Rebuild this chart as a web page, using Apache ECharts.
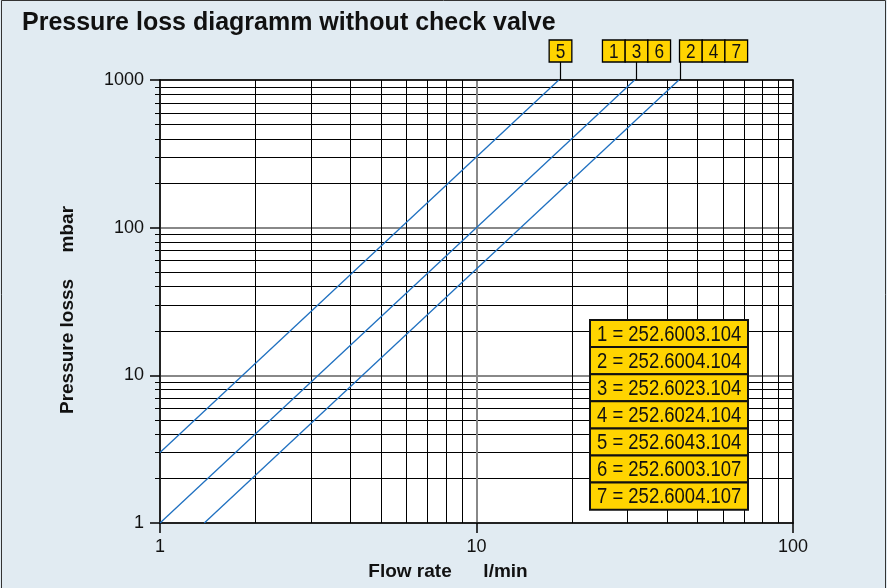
<!DOCTYPE html>
<html><head><meta charset="utf-8">
<script src="https://cdn.jsdelivr.net/npm/echarts@6/dist/echarts.min.js"></script>
<style>html,body{margin:0;padding:0;background:#e1ebf2;} #c{width:887px;height:588px;}</style>
</head><body><div id="c"></div>
<script>
// ---- data ----
const titleText = 'Pressure loss diagramm without check valve';
const xName = 'Flow rate      l/min';
const yName = 'Pressure losss     mbar';
const series5 = [[1, 3], [18.2, 1000]];
const series136 = [[1, 1], [31.6, 1000]];
const series247 = [[1.38, 1], [43.6, 1000]];
const tagCells = [['5'], ['1', '3', '6'], ['2', '4', '7']];
const legendItems = [
  '1 = 252.6003.104',
  '2 = 252.6004.104',
  '3 = 252.6023.104',
  '4 = 252.6024.104',
  '5 = 252.6043.104',
  '6 = 252.6003.107',
  '7 = 252.6004.107'
];
const xRange = [1, 100];
const yRange = [1, 1000];

const BG = '#e1ebf2', YEL = '#ffd400', BLUE = '#1f70c0';
const FONT = 'Liberation Sans, Arial, sans-serif';

const chart = echarts.init(document.getElementById('c'), null, {renderer: 'canvas'});

const frameAxis = (pos) => ({
  type: 'log', logBase: 10, position: pos,
  min: pos === 'top' || pos === 'bottom' ? xRange[0] : yRange[0],
  max: pos === 'top' || pos === 'bottom' ? xRange[1] : yRange[1],
  axisLine: {show: true, onZero: false, lineStyle: {color: '#000', width: 1.5}},
  axisTick: {show: false}, axisLabel: {show: false}, splitLine: {show: false}
});
const plain = v => String(Math.round(v));

chart.setOption({
  backgroundColor: BG,
  animation: false,
  grid: {left: 160, right: 94, top: 80, bottom: 65, show: true, backgroundColor: '#fff', borderWidth: 0},
  xAxis: [{
    type: 'log', logBase: 10, min: xRange[0], max: xRange[1],
    axisLine: {show: true, onZero: false, lineStyle: {color: '#000', width: 1.5}},
    axisTick: {show: true, length: 10, lineStyle: {color: '#000', width: 1.5}},
    minorTick: {show: false, splitNumber: 9},
    splitLine: {show: true, lineStyle: {color: '#888', width: 2}},
    minorSplitLine: {show: true, lineStyle: {color: '#000', width: 1}},
    axisLabel: {fontSize: 18, color: '#111', margin: 15, fontFamily: FONT, formatter: plain}
  }, frameAxis('top')],
  yAxis: [{
    type: 'log', logBase: 10, min: yRange[0], max: yRange[1],
    axisLine: {show: true, onZero: false, lineStyle: {color: '#000', width: 1.5}},
    axisTick: {show: true, length: 10, lineStyle: {color: '#000', width: 1.5}},
    minorTick: {show: true, splitNumber: 9, length: 5, lineStyle: {color: '#000', width: 1}},
    splitLine: {show: true, lineStyle: {color: '#888', width: 2}},
    minorSplitLine: {show: true, lineStyle: {color: '#000', width: 1}},
    axisLabel: {fontSize: 18, color: '#111', margin: 16, fontFamily: FONT, formatter: plain}
  }, frameAxis('right')],
  series: [series5, series136, series247].map((d, i) => ({
    name: 'line' + i, type: 'line', data: d, showSymbol: false, z: 5,
    xAxisIndex: 0, yAxisIndex: 0,
    lineStyle: {color: BLUE, width: 1.3}
  }))
});

// ---- annotations ----
const g = [];
g.push({type: 'text', x: 22, y: 23, style: {text: titleText, font: 'bold 25px ' + FONT, fill: '#111', verticalAlign: 'middle'}});
g.push({type: 'text', x: 448, y: 572, style: {text: xName, font: 'bold 19px ' + FONT, fill: '#111', align: 'center', verticalAlign: 'middle'}});
g.push({type: 'text', x: 68, y: 310, rotation: Math.PI / 2, style: {text: yName, font: 'bold 19px ' + FONT, fill: '#111', align: 'center', verticalAlign: 'middle'}});

// tag boxes with leader lines, anchored on series end points
const ends = [series5, series136, series247].map(s => chart.convertToPixel({xAxisIndex: 0, yAxisIndex: 0}, s[s.length - 1]));
const cellW = 22.7, cellH = 22, gap = 18;
tagCells.forEach((cells, i) => {
  const px = Math.round(ends[i][0]) + 1.5;
  const top = ends[i][1];
  const w = cells.length * cellW;
  const x0 = i === 2 ? px - 1 : px - w / 2;
  const by = top - gap - cellH;
  g.push({type: 'line', shape: {x1: px, y1: top - gap, x2: px, y2: top}, style: {stroke: '#000', lineWidth: 1.2}, z: 10});
  cells.forEach((c, k) => {
    g.push({type: 'rect', shape: {x: x0 + k * cellW, y: by, width: cellW, height: cellH}, style: {fill: YEL, stroke: '#000', lineWidth: 1.3}, z: 10});
    g.push({type: 'text', x: x0 + k * cellW + cellW / 2, y: by + cellH / 2 + 1, scaleX: 0.82, style: {text: c, font: '21px ' + FONT, fill: '#111', align: 'center', verticalAlign: 'middle'}, z: 11});
  });
});

// legend table
const lx = 590, ly = 320, lw = 158, lh = 27.1;
legendItems.forEach((t, i) => {
  g.push({type: 'rect', shape: {x: lx, y: ly + i * lh, width: lw, height: lh}, style: {fill: YEL, stroke: '#111', lineWidth: 2}, z: 10});
  g.push({type: 'text', x: lx + 7, y: ly + i * lh + lh / 2 + 1, scaleX: 0.84, style: {text: t, font: '22px ' + FONT, fill: '#111', verticalAlign: 'middle'}, z: 11});
});

// outer border
g.push({type: 'rect', shape: {x: 1.5, y: 0.5, width: 884, height: 600}, style: {fill: null, stroke: '#333', lineWidth: 1}, z: 20});

chart.setOption({graphic: g});
</script></body></html>
